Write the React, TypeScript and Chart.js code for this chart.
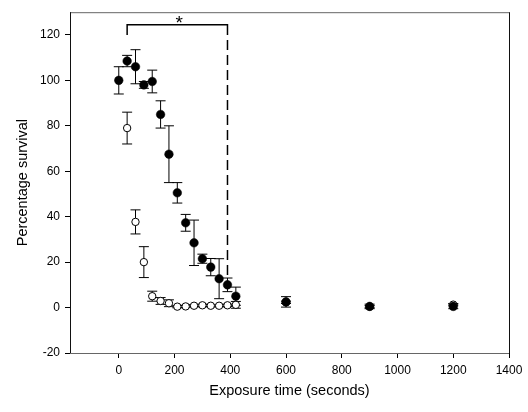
import React, { useEffect, useRef } from "react";
import { Chart, registerables } from "chart.js";

Chart.register(...registerables);

const timesFilled = [0, 30, 60, 90, 120, 150, 180, 210, 240, 270, 300, 330, 360, 390, 420, 600, 900, 1200];
const filledMean = [100, 108.5, 106, 98, 99.5, 85, 67.5, 50.5, 37.3, 28.5, 21.5, 17.8, 12.7, 10, 5, 2.5, 0.5, 0.5];
const filledErr = [6, 2.5, 7.5, 1.5, 5, 6, 12.5, 4.5, 3.7, 10, 2, 3.8, 8.8, 3, 4, 2.3, 1, 1];

const timesOpen = [30, 60, 90, 120, 150, 180, 210, 240, 270, 300, 330, 360, 390, 420, 600, 900, 1200];
const openMean = [79, 37.7, 20, 5, 2.9, 1.9, 0.4, 0.5, 0.8, 1, 0.8, 0.8, 1, 1.2, 2.3, 0.4, 1.3];
const openErr = [7, 5.3, 6.8, 2.2, 1.5, 1.5, 0.5, 0.5, 0.5, 0.5, 0.5, 0.5, 0.5, 1.5, 0.5, 0.5, 0.5];

const xTicks = [0, 200, 400, 600, 800, 1000, 1200, 1400];
const yTicks = [-20, 0, 20, 40, 60, 80, 100, 120];

const bracketStart = 30;
const bracketEnd = 390;
const bracketTop = 124.5;
const bracketDrop = 120;
const dashedBottom = 10;

const FONT = "'Liberation Sans', Arial, sans-serif";

const errorBarPlugin = {
  id: "errorBars",
  beforeDatasetsDraw(chart: any) {
    const { ctx, scales } = chart;
    const xs = scales.x;
    const ys = scales.y;
    const cap = 5;
    const drawSet = (t: number[], m: number[], e: number[]) => {
      for (let i = 0; i < t.length; i++) {
        const px = xs.getPixelForValue(t[i]);
        const pTop = ys.getPixelForValue(m[i] + e[i]);
        const pBot = ys.getPixelForValue(m[i] - e[i]);
        ctx.beginPath();
        ctx.moveTo(px, pTop);
        ctx.lineTo(px, pBot);
        ctx.moveTo(px - cap, pTop);
        ctx.lineTo(px + cap, pTop);
        ctx.moveTo(px - cap, pBot);
        ctx.lineTo(px + cap, pBot);
        ctx.stroke();
      }
    };
    ctx.save();
    ctx.strokeStyle = "#000";
    ctx.lineWidth = 1;
    drawSet(timesOpen, openMean, openErr);
    drawSet(timesFilled, filledMean, filledErr);
    ctx.restore();
  },
  afterDraw(chart: any) {
    const { ctx, scales, chartArea } = chart;
    const xs = scales.x;
    const ys = scales.y;
    ctx.save();
    // frame
    ctx.lineWidth = 1;
    ctx.strokeStyle = "#666";
    ctx.beginPath();
    ctx.moveTo(chartArea.left, chartArea.top + 0.5);
    ctx.lineTo(chartArea.right, chartArea.top + 0.5);
    ctx.moveTo(chartArea.left, chartArea.bottom + 0.5);
    ctx.lineTo(chartArea.right, chartArea.bottom + 0.5);
    ctx.stroke();
    ctx.strokeStyle = "#111";
    ctx.beginPath();
    ctx.moveTo(chartArea.left + 0.5, chartArea.top);
    ctx.lineTo(chartArea.left + 0.5, chartArea.bottom);
    ctx.moveTo(chartArea.right + 0.5, chartArea.top);
    ctx.lineTo(chartArea.right + 0.5, chartArea.bottom);
    ctx.stroke();

    // bracket
    const x1 = xs.getPixelForValue(bracketStart);
    const x2 = xs.getPixelForValue(bracketEnd);
    const yt = ys.getPixelForValue(bracketTop);
    const yd = ys.getPixelForValue(bracketDrop);
    const yb = ys.getPixelForValue(dashedBottom);
    ctx.strokeStyle = "#000";
    ctx.lineWidth = 1.5;
    ctx.beginPath();
    ctx.moveTo(x1, yd);
    ctx.lineTo(x1, yt);
    ctx.lineTo(x2, yt);
    ctx.lineTo(x2, yd);
    ctx.stroke();
    ctx.setLineDash([10, 5]);
    ctx.beginPath();
    ctx.moveTo(x2, yd + 5);
    ctx.lineTo(x2, yb);
    ctx.stroke();
    ctx.setLineDash([]);

    // asterisk
    ctx.fillStyle = "#000";
    ctx.font = `19px ${FONT}`;
    ctx.textAlign = "center";
    ctx.textBaseline = "alphabetic";
    ctx.fillText("*", (x1 + x2) / 2 + 2, yt + 4);
    ctx.restore();
  },
};

export default function App() {
  const canvasRef = useRef<HTMLCanvasElement | null>(null);

  useEffect(() => {
    if (!canvasRef.current) return;
    const chart = new Chart(canvasRef.current, {
      type: "scatter",
      data: {
        datasets: [
          {
            label: "open",
            data: timesOpen.map((t, i) => ({ x: t, y: openMean[i] })),
            pointRadius: 3.7,
            pointBackgroundColor: "#fff",
            pointBorderColor: "#000",
            pointBorderWidth: 1,
            showLine: false,
            order: 2,
          },
          {
            label: "filled",
            data: timesFilled.map((t, i) => ({ x: t, y: filledMean[i] })),
            pointRadius: 4.3,
            pointBackgroundColor: "#000",
            pointBorderColor: "#000",
            pointBorderWidth: 0.5,
            showLine: false,
            order: 1,
          },
        ],
      },
      options: {
        animation: false,
        responsive: false,
        devicePixelRatio: 1,
        layout: { padding: { left: 14, right: 19, top: 9, bottom: 12 } },
        plugins: {
          legend: { display: false },
          tooltip: { enabled: false },
        },
        scales: {
          x: {
            type: "linear",
            min: -175,
            max: 1400,
            afterBuildTicks: (s: any) => {
              s.ticks = xTicks.map((v) => ({ value: v }));
            },
            afterFit: (s: any) => {
              s.height = 47;
            },
            grid: {
              display: true,
              drawOnChartArea: false,
              drawTicks: true,
              tickLength: 5,
              color: "#000",
            },
            border: { display: false },
            ticks: {
              color: "#000",
              font: { family: FONT, size: 12 },
              padding: 5,
              maxRotation: 0,
              callback: (v: any) => String(v),
            },
            title: {
              display: true,
              text: "Exposure time (seconds)",
              color: "#000",
              font: { family: FONT, size: 14.5 },
              padding: { top: 0, bottom: 0 },
            },
          },
          y: {
            type: "linear",
            min: -20,
            max: 130,
            afterBuildTicks: (s: any) => {
              s.ticks = yTicks.map((v) => ({ value: v }));
            },
            afterFit: (s: any) => {
              s.width = 56;
            },
            grid: {
              display: true,
              drawOnChartArea: false,
              drawTicks: true,
              tickLength: 5,
              color: "#000",
            },
            border: { display: false },
            ticks: {
              color: "#000",
              font: { family: FONT, size: 12 },
              padding: 5,
              callback: (v: any) => String(v),
            },
            title: {
              display: true,
              text: "Percentage survival",
              color: "#000",
              font: { family: FONT, size: 14.5 },
              padding: { top: 0, bottom: 0 },
            },
          },
        },
      },
      plugins: [errorBarPlugin],
    });
    return () => chart.destroy();
  }, []);

  return (
    <div style={{ position: "fixed", left: 0, top: 0, width: 528, height: 412, background: "#fff" }}>
      <canvas ref={canvasRef} width={528} height={412} style={{ display: "block" }} />
    </div>
  );
}
